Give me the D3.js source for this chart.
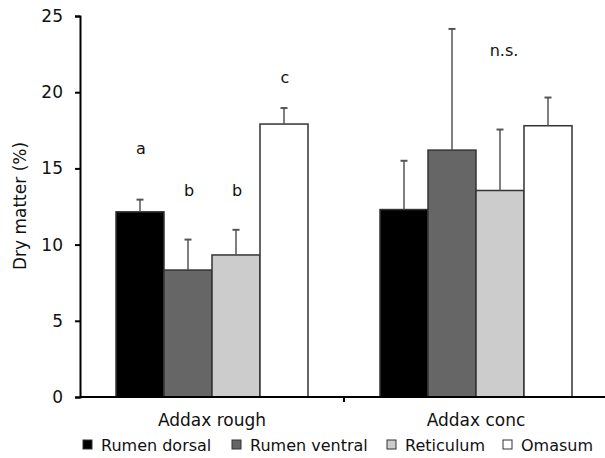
<!DOCTYPE html>
<html><head><meta charset="utf-8">
<script src="https://cdn.jsdelivr.net/npm/d3@7"></script>
<style>body{margin:0;background:#fff}svg{display:block;font-family:"DejaVu Sans",Verdana,sans-serif}</style>
</head><body><svg id="c" width="605" height="458"></svg>
<script>
const categories = ["Addax rough", "Addax conc"];
const series = ["Rumen dorsal", "Rumen ventral", "Reticulum", "Omasum"];
const colors = ["#000000", "#666666", "#cccccc", "#ffffff"];
const roughMeans = [12.15, 8.33, 9.32, 17.91];
const roughErr = [0.8, 2.0, 1.65, 1.05];
const concMeans = [12.3, 16.2, 13.55, 17.8];
const concErr = [3.2, 7.95, 4.0, 1.85];
const yTicks = [0, 5, 10, 15, 20, 25];
const sigLabels = [
  {cat: "Addax rough", s: "Rumen dorsal", text: "a", y: 16.3},
  {cat: "Addax rough", s: "Rumen ventral", text: "b", y: 13.5},
  {cat: "Addax rough", s: "Reticulum", text: "b", y: 13.5},
  {cat: "Addax rough", s: "Omasum", text: "c", y: 20.9},
  {cat: "Addax conc", s: "Reticulum", text: "n.s.", y: 22.7}
];

const means = [roughMeans, concMeans], errs = [roughErr, concErr];
const data = [];
categories.forEach((c, i) => series.forEach((s, j) => data.push({cat: c, s, v: means[i][j], e: errs[i][j], col: colors[j]})));

const svg = d3.select("#c");
const x0 = d3.scaleBand().domain(categories).range([80, 608]).paddingInner(0).paddingOuter(0);
const x1 = d3.scaleBand().domain(series).range([0, 192]);
const off = (x0.bandwidth() - 192) / 2;
const y = d3.scaleLinear().domain([0, 25]).range([397, 16]);

// bars
svg.append("g").selectAll("rect").data(data).join("rect")
  .attr("x", d => x0(d.cat) + off + x1(d.s))
  .attr("y", d => y(d.v))
  .attr("width", x1.bandwidth())
  .attr("height", d => y(0) - y(d.v))
  .attr("fill", d => d.col)
  .attr("stroke", "#333").attr("stroke-width", 1.5);

// error bars
const eg = svg.append("g").attr("stroke", "#555").attr("stroke-width", 1.5);
data.forEach(d => {
  const cx = x0(d.cat) + off + x1(d.s) + x1.bandwidth() / 2;
  eg.append("line").attr("x1", cx).attr("x2", cx).attr("y1", y(d.v)).attr("y2", y(d.v + d.e));
  eg.append("line").attr("x1", cx - 3.5).attr("x2", cx + 3.5).attr("y1", y(d.v + d.e)).attr("y2", y(d.v + d.e)).attr("stroke-width", 2);
});

// significance labels
svg.append("g").selectAll("text").data(sigLabels).join("text")
  .attr("x", d => x0(d.cat) + off + x1(d.s) + x1.bandwidth() / 2 + (d.text === "n.s." ? 4 : 1))
  .attr("y", d => y(d.y) + 5)
  .attr("text-anchor", "middle").attr("font-size", 16).attr("fill", "#111")
  .text(d => d.text);

// y axis
const ya = svg.append("g").attr("transform", "translate(80,0)")
  .call(d3.axisLeft(y).tickValues(yTicks).tickSize(5).tickPadding(12));
ya.select(".domain").attr("stroke", "#000").attr("stroke-width", 2);
ya.selectAll(".tick line").attr("stroke", "#000").attr("stroke-width", 2);
ya.selectAll("text").attr("font-size", 17).attr("fill", "#111").attr("font-family", "DejaVu Sans");

// x axis
const xa = svg.append("g").attr("transform", "translate(0,397)");
xa.append("line").attr("x1", 80).attr("x2", 605).attr("y1", 0).attr("y2", 0).attr("stroke", "#000").attr("stroke-width", 2);
xa.append("line").attr("x1", x0("Addax conc")).attr("x2", x0("Addax conc")).attr("y1", 0).attr("y2", 5).attr("stroke", "#000").attr("stroke-width", 2);
xa.selectAll("text").data(categories).join("text")
  .attr("x", d => x0(d) + x0.bandwidth() / 2)
  .attr("y", 29)
  .attr("text-anchor", "middle").attr("font-size", 17).attr("fill", "#111")
  .text(d => d);

// y title
svg.append("text").attr("transform", "translate(26,206) rotate(-90)")
  .attr("text-anchor", "middle").attr("font-size", 17).attr("fill", "#111").text("Dry matter (%)");

// legend
const legX = [83, 232, 387, 503];
const lg = svg.append("g");
series.forEach((s, j) => {
  lg.append("rect").attr("x", legX[j]).attr("y", 440).attr("width", 9).attr("height", 9)
    .attr("fill", colors[j]).attr("stroke", "#333").attr("stroke-width", 1);
  lg.append("text").attr("x", legX[j] + 18).attr("y", 451).attr("font-size", 16).attr("fill", "#111").text(s);
});
</script></body></html>
